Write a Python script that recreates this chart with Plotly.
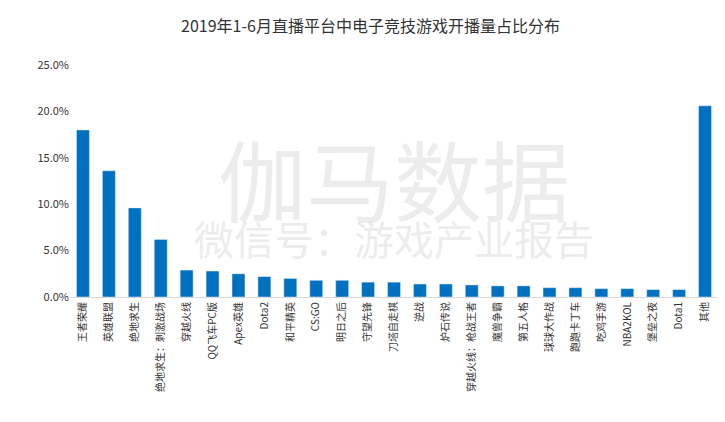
import plotly.graph_objects as go

games = ["王者荣耀", "英雄联盟", "绝地求生", "绝地求生：刺激战场", "穿越火线", "QQ飞车PC版",
         "Apex英雄", "Dota2", "和平精英", "CS:GO", "明日之后", "守望先锋", "刀塔自走棋",
         "逆战", "炉石传说", "穿越火线：枪战王者", "魔兽争霸", "第五人格", "球球大作战",
         "跑跑卡丁车", "吃鸡手游", "NBA2KOL", "堡垒之夜", "Dota1", "其他"]
share = [18.0, 13.6, 9.6, 6.2, 2.9, 2.8, 2.5, 2.2, 2.0, 1.8, 1.8, 1.6, 1.6,
         1.4, 1.4, 1.3, 1.2, 1.2, 1.0, 1.0, 0.9, 0.9, 0.8, 0.8, 20.6]

fig = go.Figure(go.Bar(x=games, y=share, marker_color="#0070c0", width=0.5))

fig.add_annotation(text="伽马数据", x=0.5, y=0.8, xref="paper", yref="paper", showarrow=False,
                   font=dict(size=88, color="rgba(200,200,200,0.35)"))
fig.add_annotation(text="微信号：游戏产业报告", x=0.5, y=0.12, xref="paper", yref="paper", showarrow=False,
                   font=dict(size=40, color="rgba(200,200,200,0.35)"))

fig.update_layout(
    title=dict(text="2019年1-6月直播平台中电子竞技游戏开播量占比分布", x=0.5, y=0.97,
               font=dict(size=16, color="#333")),
    font=dict(family="Noto Sans CJK SC", size=11, color="#333"),
    plot_bgcolor="white", paper_bgcolor="white",
    width=725, height=422,
    margin=dict(l=62, r=15, t=57, b=133),
    xaxis=dict(tickangle=-90, showline=True, linecolor="#d9d9d9", tickfont=dict(size=10)),
    yaxis=dict(range=[0, 25], dtick=5, ticksuffix="%", tickformat=".1f",
               showgrid=False, zeroline=False),
    bargap=0.5,
)

fig.write_html("out.html")
